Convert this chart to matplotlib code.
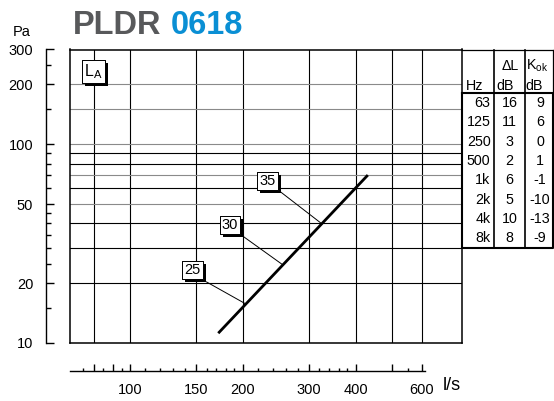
import matplotlib
matplotlib.use("Agg")
import matplotlib.pyplot as plt
import matplotlib.patheffects as pe
from matplotlib.ticker import FixedLocator, FixedFormatter, NullFormatter, NullLocator

plt.rcParams["font.family"] = ["Liberation Sans", "DejaVu Sans"]
plt.rcParams["mathtext.fontset"] = "custom"
plt.rcParams["mathtext.rm"] = "Liberation Sans"
plt.rcParams["mathtext.it"] = "Liberation Sans"

W, H = 554, 401

# fan curve (l/s, Pa)
flow = [172, 431]
pressure = [11.2, 70]

# sound level markers: point on curve, leader start, label box
level_labels = ["25", "30", "35"]
level_flow = [204, 256, 325]
level_pressure = [15.7, 24.7, 39.8]
leader_flow = [160, 200, 251]
leader_pressure = [20.3, 34.5, 58]
label_flow = [147, 185, 233]
label_pressure = [23.3, 39.2, 65.2]

grid_x = [80, 100, 150, 200, 300, 400, 500, 600]
grid_y = [20, 30, 40, 50, 60, 70, 80, 90, 100, 150, 200]
grid_y_gray = [50, 70, 100, 150, 200]

x_major = [80, 90, 100, 150, 200, 300, 400, 500, 600]
x_major_labels = ["", "", "100", "150", "200", "300", "400", "", "600"]
x_minor = [75, 85, 95, 110, 120, 130, 140, 160, 170, 180, 190,
           220, 240, 260, 280, 320, 340, 360, 380, 550]
y_major = [10, 20, 50, 100, 200, 300]
y_minor = [15, 25, 30, 35, 40, 45, 60, 70, 80, 90, 150, 250]

freq = ["63", "125", "250", "500", "1k", "2k", "4k", "8k"]
delta_l = [16, 11, 3, 2, 6, 5, 10, 8]
k_ok = [9, 6, 0, 1, -1, -10, -13, -9]

fig = plt.figure(figsize=(W / 100, H / 100), dpi=100)


def px_axes(left, top, right, bottom):
    return fig.add_axes([left / W, 1 - bottom / H, (right - left) / W, (bottom - top) / H])


# main grid area
ax = px_axes(70, 49.5, 462, 343)
ax.set_xscale("log")
ax.set_yscale("log")
ax.set_xlim(69.2, 768.5)
ax.set_ylim(10, 300)
ax.xaxis.set_major_locator(NullLocator())
ax.xaxis.set_minor_locator(NullLocator())
ax.yaxis.set_major_locator(NullLocator())
ax.yaxis.set_minor_locator(NullLocator())
for s in ax.spines.values():
    s.set_linewidth(1.1)
for v in grid_x:
    ax.axvline(v, color="black", lw=0.8, zorder=1)
for v in grid_y:
    ax.axhline(v, color="#8a8a8a" if v in grid_y_gray else "black", lw=0.8, zorder=1)

ax.plot(flow, pressure, color="black", lw=2.0, solid_capstyle="butt", zorder=3)

shadow = [pe.withSimplePatchShadow(offset=(2.2, -2.2), shadow_rgbFace="black", alpha=1.0), pe.Normal()]
for lab, fx, fy, lx, ly, bx, by in zip(level_labels, level_flow, level_pressure,
                                       leader_flow, leader_pressure, label_flow, label_pressure):
    ax.plot([lx, fx], [ly, fy], color="black", lw=0.7, zorder=2)
    t = ax.text(bx, by, lab, ha="center", va="center", fontsize=10.5, zorder=5,
                bbox=dict(boxstyle="square,pad=0.15", fc="white", ec="black", lw=0.7))
    t.get_bbox_patch().set_path_effects(shadow)

t = ax.text(80, 232, r"L$_\mathrm{A}$", ha="center", va="center", fontsize=11.5, zorder=5,
            bbox=dict(boxstyle="square,pad=0.15", fc="white", ec="black", lw=0.7))
t.get_bbox_patch().set_path_effects(shadow)

# bottom flow axis
bx_ax = px_axes(70, 355, 425, 370.7)
bx_ax.set_xscale("log")
bx_ax.set_xlim(69.2, 612)
bx_ax.patch.set_visible(False)
for name in ["top", "left", "right"]:
    bx_ax.spines[name].set_visible(False)
bx_ax.spines["bottom"].set_linewidth(1.0)
bx_ax.yaxis.set_major_locator(NullLocator())
bx_ax.yaxis.set_minor_locator(NullLocator())
bx_ax.xaxis.set_major_locator(FixedLocator(x_major))
bx_ax.xaxis.set_major_formatter(FixedFormatter(x_major_labels))
bx_ax.xaxis.set_minor_locator(FixedLocator(x_minor))
bx_ax.xaxis.set_minor_formatter(NullFormatter())
bx_ax.tick_params(axis="x", which="major", direction="in", length=5, width=1.0, pad=9, labelsize=10.5)
bx_ax.tick_params(axis="x", which="minor", direction="in", length=2.5, width=1.0)

# left pressure axis
ly_ax = px_axes(45.7, 49.5, 60, 343)
ly_ax.set_yscale("log")
ly_ax.set_ylim(10, 300)
ly_ax.patch.set_visible(False)
for name in ["top", "bottom", "right"]:
    ly_ax.spines[name].set_visible(False)
ly_ax.spines["left"].set_linewidth(1.0)
ly_ax.xaxis.set_major_locator(NullLocator())
ly_ax.xaxis.set_minor_locator(NullLocator())
ly_ax.yaxis.set_major_locator(FixedLocator(y_major))
ly_ax.yaxis.set_major_formatter(FixedFormatter([str(v) for v in y_major]))
ly_ax.yaxis.set_minor_locator(FixedLocator(y_minor))
ly_ax.yaxis.set_minor_formatter(NullFormatter())
ly_ax.tick_params(axis="y", which="major", direction="in", length=5.8, width=1.0, pad=9, labelsize=10.5)
ly_ax.tick_params(axis="y", which="minor", direction="in", length=3.6, width=1.0)

# overlay in pixel coordinates for title, units and table
ov = fig.add_axes([0, 0, 1, 1])
ov.set_xlim(0, W)
ov.set_ylim(H, 0)
ov.axis("off")
ov.patch.set_visible(False)

ov.text(73, 34, "PLDR", fontsize=23.5, fontweight="bold", color="#58595b", va="baseline")
ov.text(171, 34, "0618", fontsize=23.5, fontweight="bold", color="#0a8fd4", va="baseline")
ov.text(22, 31.5, "Pa", fontsize=10.5, ha="center", va="center")
ov.text(442.5, 386, "l/s", fontsize=13, ha="left", va="center")

# table
c0, c1, c2, c3 = 462, 494, 525, 553
top, head, bot = 49.5, 93.3, 248
ov.plot([c0, c3], [top, top], color="black", lw=0.9)
ov.plot([c3, c3], [top, head], color="black", lw=0.9)
for cx in (c1, c2):
    ov.plot([cx, cx], [top, bot], color="black", lw=1.2)
ov.plot([c0, c3, c3, c0, c0], [head, head, bot, bot, head], color="black", lw=1.5)

fs = 10.3
ov.text(465.5, 86, "Hz", fontsize=fs, ha="left", va="center")
ov.text(496.5, 86, "dB", fontsize=fs, ha="left", va="center")
ov.text(525.8, 86, "dB", fontsize=fs, ha="left", va="center")
ov.text(510, 65.5, "\u0394L", fontsize=fs, ha="center", va="center")
ov.text(526.5, 65.5, r"K$_\mathrm{ok}$", fontsize=fs, ha="left", va="center")

row_h = (bot - head) / len(freq)
for i, (f, d, k) in enumerate(zip(freq, delta_l, k_ok)):
    yc = head + row_h * (i + 0.5)
    ov.text(490.5, yc, f, fontsize=fs, ha="right", va="center")
    ov.text(509.5, yc, str(d), fontsize=fs, ha="center", va="center")
    ov.text(540, yc, str(k), fontsize=fs, ha="center", va="center")

fig.savefig("out.png", dpi=100, facecolor="white")
